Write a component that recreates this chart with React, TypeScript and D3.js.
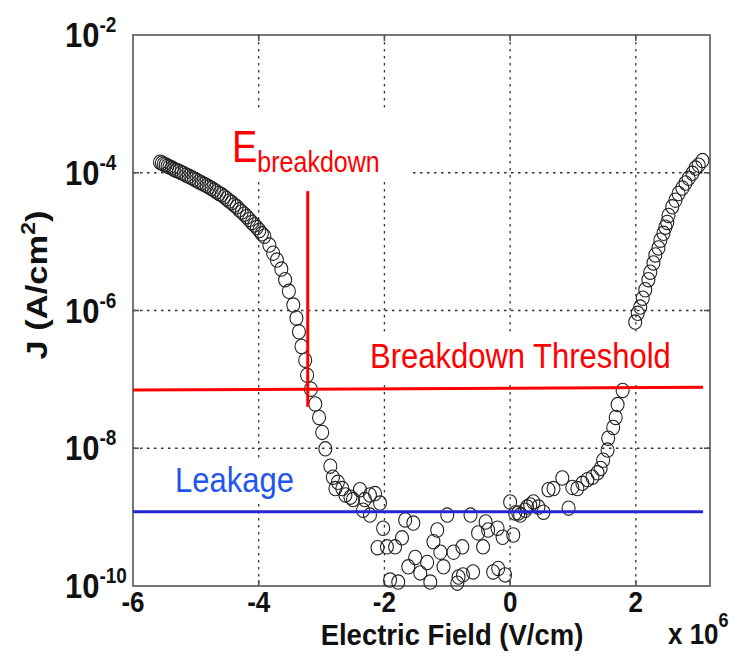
import React from 'react';
import * as d3 from 'd3';

const W = 743;
const H = 664;

// Axis ticks
const xTicks = [-6, -4, -2, 0, 2];
const yTicks = [1e-2, 1e-4, 1e-6, 1e-8, 1e-10];
const yTickExponents = ['-2', '-4', '-6', '-8', '-10'];

// Negative-field branch (E in 10^6 V/cm, J in A/cm^2)
const fieldNeg = [
  -5.57, -5.54, -5.51, -5.48, -5.45, -5.42, -5.38, -5.35, -5.31, -5.27, -5.23, -5.19, -5.15, -5.11,
  -5.07, -5.03, -4.99, -4.95, -4.91, -4.87, -4.83, -4.79, -4.75, -4.71, -4.67, -4.63, -4.59, -4.55,
  -4.51, -4.47, -4.43, -4.39, -4.35, -4.31, -4.27, -4.23, -4.19, -4.15, -4.11, -4.07, -4.03, -3.99,
  -3.95, -3.91, -3.83, -3.77, -3.71, -3.64, -3.58, -3.52, -3.45, -3.40, -3.36, -3.32, -3.26, -3.23,
  -3.17, -3.10, -3.04, -2.99, -2.94, -2.86, -2.82,
];
const currentNeg = [
  1.42e-4, 1.38e-4, 1.33e-4, 1.3e-4, 1.25e-4, 1.21e-4, 1.17e-4, 1.12e-4, 1.08e-4, 1.05e-4, 1.0e-4, 9.7e-5, 9.2e-5, 8.9e-5,
  8.5e-5, 8.1e-5, 7.8e-5, 7.4e-5, 7.1e-5, 6.8e-5, 6.5e-5, 6.2e-5, 5.9e-5, 5.6e-5, 5.3e-5, 5.0e-5, 4.8e-5, 4.5e-5,
  4.2e-5, 3.9e-5, 3.7e-5, 3.4e-5, 3.2e-5, 2.9e-5, 2.7e-5, 2.5e-5, 2.3e-5, 2.1e-5, 1.9e-5, 1.75e-5, 1.6e-5, 1.45e-5,
  1.3e-5, 1.2e-5, 8.9e-6, 6.8e-6, 5.4e-6, 4.0e-6, 2.8e-6, 1.9e-6, 1.2e-6, 7.8e-7, 4.9e-7, 3.0e-7, 1.9e-7, 1.15e-7,
  7.2e-8, 4.4e-8, 2.8e-8, 1.7e-8, 9.8e-9, 5.5e-9, 3.8e-9,
];

// Low-field noise floor
const fieldLow = [
  -2.74, -2.78, -2.67, -2.62, -2.54, -2.50, -2.39, -2.31, -2.23, -2.15, -2.07, -2.34, -2.23, -2.02,
  -2.11, -1.96, -1.83, -1.72, -1.67, -1.54, -1.91, -1.78, -1.62, -1.51, -1.43, -1.32, -1.27, -1.16,
  -1.22, -1.11, -1.06, -1.00, -0.90, -0.76, -0.82, -0.84, -0.75, -0.63, -0.59, -0.51, -0.43, -0.39,
  -0.35, -0.27, -0.19, -0.20, -0.12, -0.08, 0.00, 0.05, 0.08, 0.16, 0.24, 0.32, 0.37,
];
const currentLow = [
  3.2e-9, 2.6e-9, 2.6e-9, 2.1e-9, 1.95e-9, 1.8e-9, 2.5e-9, 1.8e-9, 2.1e-9, 2.2e-9, 1.6e-9, 1.26e-9, 1.07e-9, 6.9e-10,
  3.6e-10, 3.7e-10, 3.7e-10, 5.0e-10, 9.1e-10, 8.2e-10, 1.22e-10, 1.14e-10, 1.9e-10, 2.6e-10, 1.55e-10, 2.2e-10, 1.14e-10, 6.5e-10,
  4.4e-10, 3.1e-10, 1.9e-10, 1.07e-9, 3.1e-10, 3.7e-10, 1.35e-10, 1.1e-10, 1.45e-10, 1.07e-9, 1.6e-10, 5.9e-10, 3.7e-10, 8.5e-10,
  6.5e-10, 1.6e-10, 1.8e-10, 6.9e-10, 5.1e-10, 1.45e-10, 1.66e-9, 5.5e-10, 1.15e-9, 1.07e-9, 1.26e-9, 1.5e-9, 1.66e-9,
];

// Positive-field branch
const fieldPos = [
  0.13, 0.27, 0.45, 0.53, 0.61, 0.69, 0.83, 0.93, 0.99, 1.07, 1.15, 1.23, 1.31, 1.39, 1.44, 1.48,
  1.55, 1.56, 1.64, 1.68, 1.71, 1.79, 1.99, 2.03, 2.07, 2.11, 2.15, 2.20, 2.23, 2.28, 2.31, 2.36,
  2.39, 2.44, 2.47, 2.50, 2.52, 2.58, 2.63, 2.68, 2.74, 2.79, 2.84, 2.90, 2.95, 3.00, 3.06,
];
const currentPos = [
  1.15e-9, 1.4e-9, 1.4e-9, 1.18e-9, 2.5e-9, 2.6e-9, 3.7e-9, 1.35e-9, 2.7e-9, 2.6e-9, 3.1e-9, 3.5e-9, 3.8e-9, 4.4e-9, 5.1e-9, 6.7e-9,
  9.4e-9, 1.4e-8, 2.0e-8, 2.8e-8, 4.3e-8, 6.9e-8, 6.8e-7, 9.1e-7, 1.12e-6, 1.51e-6, 2.0e-6, 2.8e-6, 3.6e-6, 4.9e-6, 6.4e-6, 8.1e-6,
  1.05e-5, 1.32e-5, 1.62e-5, 1.9e-5, 2.4e-5, 3.2e-5, 4.0e-5, 5.0e-5, 6.0e-5, 7.1e-5, 8.3e-5, 9.8e-5, 1.17e-4, 1.29e-4, 1.5e-4,
];

// Reference lines
const lineFieldEnd = 3.07;
const leakageLevel = 1.2e-9;
const thresholdStart = 7.0e-8;
const thresholdEnd = 7.7e-8;
const breakdownField = -3.22;
const breakdownTop = 5.4e-5;
const breakdownBottom = 4.0e-8;

const PLOT = { left: 133, right: 710, top: 35, bottom: 586 };
const FONT = 'Liberation Sans, Arial, sans-serif';
const TALL = 1.15; // glyphs are drawn slightly taller than wide

function Label({ x, y, rotate = 0, stretch = TALL, children, ...rest }: any) {
  const t = rotate
    ? `translate(${x},${y}) rotate(${rotate}) scale(${stretch},1)`
    : `translate(${x},${y}) scale(1,${stretch})`;
  return (
    <g transform={t}>
      <text x={0} y={0} {...rest}>
        {children}
      </text>
    </g>
  );
}

export default function App() {
  const x = d3.scaleLinear().domain([-6, 3.18]).range([PLOT.left, PLOT.right]);
  const y = d3.scaleLog().domain([1e-10, 1e-2]).range([PLOT.bottom, PLOT.top]);

  const points = [
    ...fieldNeg.map((e, i) => [e, currentNeg[i]]),
    ...fieldLow.map((e, i) => [e, currentLow[i]]),
    ...fieldPos.map((e, i) => [e, currentPos[i]]),
  ];

  const gridX = xTicks.filter((t) => t > -6);
  const gridY = yTicks.filter((t) => t < 1e-2 && t > 1e-10);
  const tick = 6;

  return (
    <svg
      width={W}
      height={H}
      style={{ position: 'absolute', left: 0, top: 0, background: '#fff' }}
      fontFamily={FONT}
    >
      <rect x={0} y={0} width={W} height={H} fill="#fff" />

      {/* grid */}
      <g stroke="#333" strokeWidth={1.3} strokeDasharray="2.5,4.5">
        {gridX.map((t) => (
          <line key={'gx' + t} x1={x(t)} x2={x(t)} y1={PLOT.top} y2={PLOT.bottom} />
        ))}
        {gridY.map((t) => (
          <line key={'gy' + t} x1={PLOT.left} x2={PLOT.right} y1={y(t)} y2={y(t)} />
        ))}
      </g>

      {/* label backgrounds */}
      <g fill="#fff">
        <rect x={198} y={110} width={212} height={68} />
        <rect x={362} y={333} width={318} height={51} />
        <rect x={168} y={462} width={132} height={38} />
      </g>

      {/* axes box and ticks */}
      <g stroke="#555" strokeWidth={1.6} fill="none">
        <rect x={PLOT.left} y={PLOT.top} width={PLOT.right - PLOT.left} height={PLOT.bottom - PLOT.top} />
        {gridX.map((t) => (
          <g key={'tx' + t}>
            <line x1={x(t)} x2={x(t)} y1={PLOT.bottom} y2={PLOT.bottom - tick} />
            <line x1={x(t)} x2={x(t)} y1={PLOT.top} y2={PLOT.top + tick} />
          </g>
        ))}
        {gridY.map((t) => (
          <g key={'ty' + t}>
            <line x1={PLOT.left} x2={PLOT.left + tick} y1={y(t)} y2={y(t)} />
            <line x1={PLOT.right} x2={PLOT.right - tick} y1={y(t)} y2={y(t)} />
          </g>
        ))}
      </g>

      {/* measured J-E points */}
      <g fill="none" stroke="#222" strokeWidth={1.1}>
        {points.map(([e, j], i) => (
          <ellipse key={i} cx={x(e)} cy={y(j)} rx={6.5} ry={7.2} />
        ))}
      </g>

      {/* reference lines */}
      <line
        x1={x(-6)}
        x2={x(lineFieldEnd)}
        y1={y(leakageLevel)}
        y2={y(leakageLevel)}
        stroke="#2525d8"
        strokeWidth={3}
      />
      <line
        x1={x(-6)}
        x2={x(lineFieldEnd)}
        y1={y(thresholdStart)}
        y2={y(thresholdEnd)}
        stroke="#ff0000"
        strokeWidth={3}
      />
      <line
        x1={x(breakdownField)}
        x2={x(breakdownField)}
        y1={y(breakdownTop)}
        y2={y(breakdownBottom)}
        stroke="#ff0000"
        strokeWidth={3}
      />

      {/* annotations */}
      <Label x={232} y={162} fill="#ff0000" fontSize={38}>
        E
        <tspan fontSize={25} dy={8.7}>breakdown</tspan>
      </Label>
      <Label x={370} y={368} fill="#ff0000" fontSize={31}>
        Breakdown Threshold
      </Label>
      <Label x={175} y={492} fill="#2255ee" fontSize={31}>
        Leakage
      </Label>

      {/* y tick labels */}
      <g fontWeight="bold" fill="#111">
        {yTicks.map((t, i) => (
          <Label key={'yl' + t} x={65} y={y(t) + 12} fontSize={31}>
            10
            <tspan fontSize={19} dy={-13}>{yTickExponents[i]}</tspan>
          </Label>
        ))}
      </g>

      {/* x tick labels */}
      <g fontWeight="bold" fill="#111">
        {xTicks.map((t) => (
          <Label key={'xl' + t} x={x(t)} y={612} fontSize={26} textAnchor="middle">
            {t}
          </Label>
        ))}
      </g>

      {/* axis titles */}
      <Label x={452} y={645} stretch={1.1} fontWeight="bold" fontSize={27.5} textAnchor="middle" fill="#111">
        Electric Field (V/cm)
      </Label>
      <Label x={668} y={644} fontWeight="bold" fontSize={26} fill="#111">
        x 10
        <tspan fontSize={18} dy={-15}>6</tspan>
      </Label>
      <Label
        x={47}
        y={285}
        rotate={-90}
        fontWeight="bold"
        fontSize={30}
        textAnchor="middle"
        fill="#111"
      >
        J (A/cm
        <tspan fontSize={20} dy={-12}>2</tspan>
        <tspan dy={12}>)</tspan>
      </Label>
    </svg>
  );
}
